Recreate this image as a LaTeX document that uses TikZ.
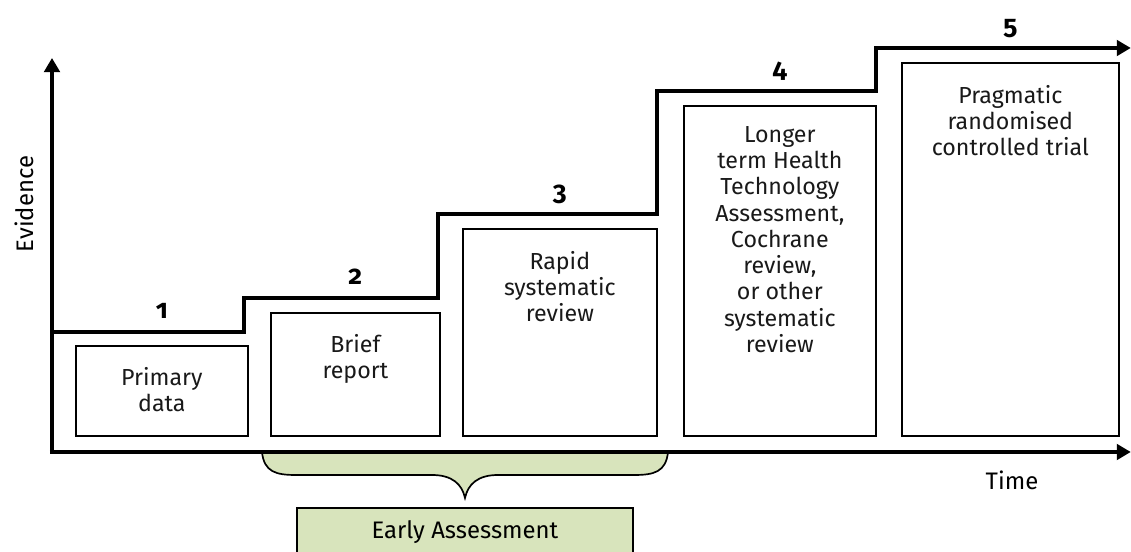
\documentclass[tikz,border=0pt]{standalone}
\usepackage{fontspec}
\setmainfont{Fira Sans}
\newfontfamily\oldnumfont[Numbers=OldStyle]{Fira Sans}
\usepackage{tikz}
\usetikzlibrary{arrows.meta, positioning, calc}
\definecolor{assessgreen}{RGB}{216, 228, 188}
\definecolor{textgray}{RGB}{25, 25, 25}

\tikzset{
    stage/.style={draw, line width=1.2pt, anchor=south west, inner sep=0pt},
    stagetext/.style={anchor=north, align=center, text=textgray, font=\fontsize{16.5}{18.7}\selectfont},
    num/.style={anchor=base, font=\fontsize{19}{22}\selectfont\oldnumfont\bfseries},
    axislabel/.style={font=\fontsize{17}{20}\selectfont},
}

\begin{document}
\begin{tikzpicture}[>={Triangle[width=11pt, length=10pt]}]
    \useasboundingbox (0,0) rectangle (28.275,13.8);
    \clip (0,0) rectangle (28.275,13.8);

    % corners of the staircase
    \coordinate (o) at (1.3,2.5);
    \coordinate (s1) at (1.3,5.5);
    \coordinate (s2) at (6.1,6.35);
    \coordinate (s3) at (10.95,8.45);
    \coordinate (s4) at (16.425,11.525);
    \coordinate (s5) at (21.9,12.6);
    \coordinate (yend) at (1.3,12.35);
    \coordinate (xend) at (28.27,2.5);
    \coordinate (send) at (28.27,12.6);

    % brace below the time axis
    \draw[fill=assessgreen, line width=1.2pt]
        (6.55,2.5) .. controls (6.6,2.0) and (6.9,1.925) .. (7.4,1.925)
        -- (10.8,1.925) .. controls (11.3,1.925) and (11.55,1.7) .. (11.625,1.35)
        .. controls (11.7,1.7) and (11.95,1.925) .. (12.45,1.925)
        -- (15.85,1.925) .. controls (16.35,1.925) and (16.65,2.0) .. (16.7,2.5);
    \node[draw, line width=1.2pt, fill=assessgreen, minimum width=8.4cm, minimum height=1.2cm,
          axislabel] (early) at (11.625,0.5) {Early Assessment};

    % stage boxes
    \node[stage, minimum width=4.3cm, minimum height=2.25cm] (b1) at (1.875,2.875) {};
    \node[stage, minimum width=4.225cm, minimum height=3.075cm] (b2) at (6.75,2.875) {};
    \node[stage, minimum width=4.85cm, minimum height=5.175cm] (b3) at (11.55,2.875) {};
    \node[stage, minimum width=4.8cm, minimum height=8.25cm] (b4) at (17.075,2.875) {};
    \node[stage, minimum width=5.425cm, minimum height=9.325cm] (b5) at (22.525,2.875) {};

    \node[stagetext, below=0.42cm of b1.north] (t1) {Primary\\data};
    \node[stagetext, below=0.42cm of b2.north] (t2) {Brief\\report};
    \node[stagetext, below=0.45cm of b3.north] (t3) {Rapid\\systematic\\review};
    \node[stagetext, below=0.4cm of b4.north] (t4) {Longer\\term Health\\Technology\\Assessment,\\Cochrane\\review,\\or other\\systematic\\review};
    \node[stagetext, below=0.45cm of b5.north] (t5) {Pragmatic\\randomised\\controlled trial};

    % axes and staircase
    \draw[->, line width=3.2pt] (o) -- (yend);
    \draw[->, line width=3.2pt] ([xshift=-1.6pt]o) -- (xend);
    \draw[->, line width=3.2pt, line join=miter] (s1) -| (s2) -| (s3) -| (s4) -| (s5) -- (send);

    \node[num, yshift=0.33cm] (n1) at (b1.north |- s1) {1};
    \node[num, yshift=0.33cm] (n2) at (b2.north |- s2) {2};
    \node[num, yshift=0.33cm] (n3) at (b3.north |- s3) {3};
    \node[num, yshift=0.33cm] (n4) at (b4.north |- s4) {4};
    \node[num, yshift=0.33cm] (n5) at (b5.north |- s5) {5};

    \node[axislabel, rotate=90] (evid) at (0.62,8.7) {Evidence};
    \node[axislabel] (time) at (25.3,1.8) {Time};
\end{tikzpicture}
\end{document}
